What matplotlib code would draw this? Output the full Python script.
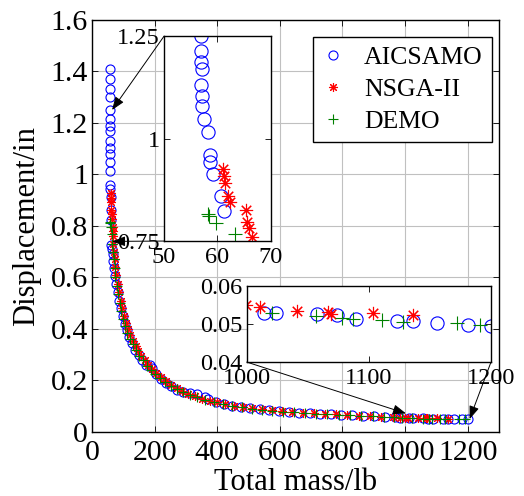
import numpy as np
import matplotlib
matplotlib.use('Agg')
import matplotlib.pyplot as plt
from matplotlib.ticker import FuncFormatter

plt.rcParams['font.family'] = ['Liberation Serif', 'DejaVu Serif']

# AICSAMO (blue circles)
blue_x = [56.9, 56.9, 56.9, 57.0, 56.9, 56.9, 57.0, 57.1, 57.0, 57.2, 57.2, 57.4, 58.3, 58.6, 58.6, 59.2, 60.6, 61.3,
          62, 64, 66, 68, 71, 74, 78, 82, 87, 92, 98, 104, 111, 119, 128, 138, 149, 160, 172, 185, 192, 205,
          220, 236, 252, 270, 290, 312, 335, 360, 372, 395, 420, 448, 476, 505, 535, 566, 598, 630, 662, 695,
          728, 762, 796, 830, 865, 900, 935, 968, 985,
          1013.9, 1023.8, 1057.1, 1074.0, 1089.3, 1122.7, 1135.8, 1155.5, 1180.9, 1199.8]
blue_y = [1.41, 1.37, 1.33, 1.30, 1.25, 1.214, 1.186, 1.170, 1.130, 1.104, 1.079, 1.049, 1.015, 0.960, 0.942, 0.913, 0.860, 0.823,
          0.725, 0.71, 0.69, 0.665, 0.635, 0.605, 0.575, 0.545, 0.51, 0.48, 0.45, 0.42, 0.395, 0.37, 0.345, 0.32, 0.30, 0.28, 0.262, 0.262, 0.247, 0.225,
          0.205, 0.19, 0.177, 0.165, 0.157, 0.153, 0.148, 0.137, 0.128, 0.115, 0.108, 0.102, 0.098, 0.093, 0.088, 0.085, 0.081, 0.078, 0.075, 0.073,
          0.071, 0.069, 0.067, 0.065, 0.063, 0.061, 0.059, 0.057, 0.055,
          0.0530, 0.0530, 0.0526, 0.0524, 0.0513, 0.0509, 0.0509, 0.0504, 0.0499, 0.0496]

# NSGA-II (red stars)
red_x = [61.1, 61.2, 61.5, 61.9, 62.3, 65.4, 65.6, 65.9, 66.4,
         68, 70, 72, 75, 78, 82, 86, 91, 96, 102, 108, 115, 122, 130, 139, 148, 158, 168, 180, 192, 205,
         220, 236, 252, 270, 288, 308, 330, 352, 376, 400, 426, 454, 482, 512, 542, 574, 606, 640, 674, 708,
         744, 780, 816, 852, 888, 924, 960, 985,
         999.2, 1010.7, 1041.2, 1066.1, 1068.6, 1103.5, 1135.8]
red_y = [0.926, 0.909, 0.891, 0.860, 0.846, 0.826, 0.797, 0.781, 0.760,
         0.73, 0.70, 0.67, 0.64, 0.61, 0.575, 0.545, 0.51, 0.48, 0.45, 0.425, 0.40, 0.375, 0.355, 0.335, 0.315, 0.295, 0.278, 0.26, 0.243, 0.228,
         0.212, 0.197, 0.183, 0.17, 0.158, 0.148, 0.138, 0.13, 0.122, 0.115, 0.108, 0.102, 0.097, 0.092, 0.088, 0.084, 0.080, 0.077, 0.074, 0.072,
         0.070, 0.068, 0.066, 0.064, 0.062, 0.060, 0.058, 0.056,
         0.0550, 0.0544, 0.0534, 0.0532, 0.0528, 0.0530, 0.0524]

# DEMO (green plus)
green_x = [58.2, 58.5, 59.8, 63.3,
           65, 67, 69, 72, 75, 79, 83, 88, 93, 99, 106, 113, 121, 130, 140, 151, 162, 175, 188, 202,
           218, 234, 251, 270, 290, 312, 336, 362, 390, 418, 448, 478, 510, 542, 575, 610, 645, 680,
           716, 752, 788, 824, 860, 896, 932, 966, 990,
           1020.8, 1056.6, 1077.6, 1086.6, 1110.4, 1127.6, 1171.9, 1190.7]
green_y = [0.816, 0.811, 0.795, 0.767,
           0.73, 0.70, 0.67, 0.635, 0.60, 0.565, 0.535, 0.50, 0.47, 0.44, 0.41, 0.385, 0.36, 0.34, 0.318, 0.297, 0.278, 0.258, 0.242, 0.226,
           0.208, 0.194, 0.18, 0.166, 0.155, 0.144, 0.134, 0.124, 0.116, 0.108, 0.102, 0.096, 0.091, 0.087, 0.083, 0.079, 0.076, 0.073,
           0.071, 0.069, 0.067, 0.065, 0.063, 0.061, 0.059, 0.057, 0.0555,
           0.0530, 0.0521, 0.0515, 0.0513, 0.0511, 0.0506, 0.0502, 0.0499]

star = (8, 2, 0)
fmt = FuncFormatter(lambda v, p: '%g' % v)


def draw(ax, ms, mew):
    ax.plot(blue_x, blue_y, 'o', mfc='none', mec='#0000ff', ms=ms, mew=mew, label='AICSAMO')
    ax.plot(red_x, red_y, ls='none', marker=star, color='#ff0000', ms=ms, mew=mew, label='NSGA-II')
    ax.plot(green_x, green_y, '+', color='#008000', ms=ms, mew=mew, label='DEMO')


def style(ax, fs, xpad=3):
    ax.tick_params(direction='in', top=True, right=True, length=4, width=0.6,
                   labelsize=fs, pad=3)
    ax.tick_params(axis='x', pad=xpad)
    for s in ax.spines.values():
        s.set_linewidth(1.0)
    ax.xaxis.set_major_formatter(fmt)
    ax.yaxis.set_major_formatter(fmt)


fig = plt.figure(figsize=(5.24, 4.96), dpi=100)
ax = fig.add_axes([0.1756, 0.129, 0.7767, 0.831])
ax.grid(True, color='#c0c0c0', lw=0.8)
ax.set_axisbelow(True)
draw(ax, 6.5, 0.8)
ax.set_xlim(0, 1300)
ax.set_ylim(0, 1.6)
ax.set_xticks([0, 200, 400, 600, 800, 1000, 1200])
ax.set_yticks([0, 0.2, 0.4, 0.6, 0.8, 1.0, 1.2, 1.4, 1.6])
style(ax, 21.5, xpad=6)
ax.set_xlabel('Total mass/lb', fontsize=22, labelpad=1)
ax.set_ylabel('Displacement/in', fontsize=22, labelpad=7)

leg = ax.legend(loc='upper right', bbox_to_anchor=(0.982, 0.958), borderaxespad=0,
                fontsize=18.5, fancybox=False, framealpha=1, edgecolor='black',
                handlelength=0.9, handletextpad=0.75, labelspacing=0.35, borderpad=0.35)
leg.get_frame().set_linewidth(1.0)

# inset 1: low-mass end
ins1 = fig.add_axes([0.313, 0.514, 0.204, 0.413])
draw(ins1, 9.5, 0.8)
ins1.set_xlim(50, 70)
ins1.set_ylim(0.75, 1.25)
ins1.set_xticks([50, 60, 70])
ins1.set_yticks([0.75, 1.0, 1.25])
style(ins1, 17.5, xpad=4)

# inset 2: high-mass end
ins2 = fig.add_axes([0.471, 0.270, 0.466, 0.153])
draw(ins2, 9.5, 0.8)
ins2.set_xlim(1000, 1200)
ins2.set_ylim(0.04, 0.06)
ins2.set_xticks([1000, 1100, 1200])
ins2.set_yticks([0.04, 0.05, 0.06])
style(ins2, 17.5, xpad=4)

arrow = dict(arrowstyle='-|>,head_length=0.8,head_width=0.3', color='black', lw=0.7,
             shrinkA=0, shrinkB=0)
ax.annotate('', xy=(64, 1.25), xycoords='data', xytext=(0, 1), textcoords=ins1.transAxes,
            arrowprops=arrow, zorder=10)
ax.annotate('', xy=(64, 0.74), xycoords='data', xytext=(0, 0), textcoords=ins1.transAxes,
            arrowprops=arrow, zorder=10)
ax.annotate('', xy=(1003, 0.072), xycoords='data', xytext=(0, 0), textcoords=ins2.transAxes,
            arrowprops=arrow, zorder=10)
ax.annotate('', xy=(1206, 0.05), xycoords='data', xytext=(1, 0), textcoords=ins2.transAxes,
            arrowprops=arrow, zorder=10)

fig.savefig('out.png', dpi=100)
